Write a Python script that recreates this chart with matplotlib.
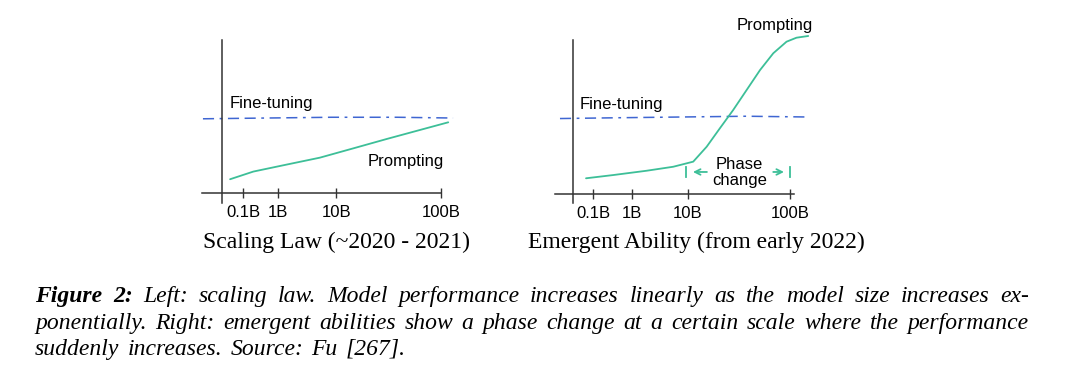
import matplotlib
matplotlib.use("Agg")
import matplotlib.pyplot as plt
import numpy as np

plt.rcParams['lines.scale_dashes'] = False

# model size ticks (sketch positions along the size axis, 100B = 1)
tick_labels = ['0.1B', '1B', '10B', '100B']
left_ticks = [0.096, 0.256, 0.521, 1.0]
right_ticks = [0.092, 0.272, 0.530, 1.0]

# left panel: scaling law
left_ft_x = [-0.087, 0.2, 0.5, 0.8, 1.055]
left_ft_y = [0.485, 0.49, 0.495, 0.495, 0.49]
left_pr_x = [0.037, 0.143, 0.286, 0.447, 0.600, 0.752, 0.904, 1.033]
left_pr_y = [0.090, 0.140, 0.183, 0.231, 0.292, 0.353, 0.412, 0.462]

# right panel: emergent ability
right_ft_x = [-0.06, 0.2, 0.5, 0.8, 1.083]
right_ft_y = [0.49, 0.495, 0.5, 0.505, 0.5]
right_pr_x = [0.060, 0.185, 0.339, 0.462, 0.554, 0.616, 0.677, 0.738, 0.800,
              0.862, 0.923, 0.984, 1.030, 1.084]
right_pr_y = [0.102, 0.123, 0.151, 0.177, 0.210, 0.307, 0.427, 0.545, 0.675,
              0.805, 0.914, 0.989, 1.015, 1.026]
phase_start, phase_end = 0.52, 1.0

caption_lines = [
    "Left: scaling law.  Model performance increases linearly as the model size increases ex-",
    "ponentially.  Right: emergent abilities show a phase change at a certain scale where the performance",
    "suddenly increases.  Source: Fu [267].",
]

W, H = 1080, 372
fig = plt.figure(figsize=(W / 100, H / 100), dpi=100)

green = '#3dbf98'
blue = '#3f66d2'
sans = 'Liberation Sans'
serif = 'Liberation Serif'


def make_axes(px_axis_x, px_axis_y, px_per_x, px_per_y, box):
    x0, y0, x1, y1 = box  # pixel box (left, top, right, bottom)
    ax = fig.add_axes([x0 / W, 1 - y1 / H, (x1 - x0) / W, (y1 - y0) / H])
    ax.set_xlim((x0 - px_axis_x) / px_per_x, (x1 - px_axis_x) / px_per_x)
    ax.set_ylim((px_axis_y - y1) / px_per_y, (px_axis_y - y0) / px_per_y)
    ax.patch.set_visible(False)
    for s in ['top', 'right']:
        ax.spines[s].set_visible(False)
    ax.spines['left'].set_position(('data', 0))
    ax.spines['bottom'].set_position(('data', 0))
    for s in ['left', 'bottom']:
        ax.spines[s].set_color('#333333')
        ax.spines[s].set_linewidth(1.1)
    ax.set_yticks([])
    ax.tick_params(axis='x', direction='inout', length=7, width=1.0,
                   color='#333333', pad=5, labelsize=12)
    return ax


def panel(ax, ticks, ft_x, ft_y, pr_x, pr_y, xb, yb):
    ax.spines['bottom'].set_bounds(*xb)
    ax.spines['left'].set_bounds(*yb)
    ax.set_xticks(ticks)
    ax.set_xticklabels(tick_labels, fontfamily=sans, fontsize=12)
    ax.plot(ft_x, ft_y, color=blue, lw=1.1, linestyle=(0, (8, 4, 2, 4, 8, 4)), clip_on=False)
    ax.plot(pr_x, pr_y, color=green, lw=1.3, clip_on=False,
            solid_capstyle='round', solid_joinstyle='round')


axL = make_axes(222, 193, 219, 153, (170, 10, 500, 262))
panel(axL, left_ticks, left_ft_x, left_ft_y, left_pr_x, left_pr_y, (-0.091, 1.0), (-0.065, 1.0))
axL.text(0.037, 0.588, 'Fine-tuning', fontfamily=sans, fontsize=12, va='center', ha='left')
axL.text(0.667, 0.203, 'Prompting', fontfamily=sans, fontsize=12, va='center', ha='left')
axL.text(0.523, -0.32, 'Scaling Law (~2020 - 2021)', fontfamily=serif, fontsize=17,
         va='center', ha='center')

axR = make_axes(573, 194, 217, 154, (500, 5, 900, 262))
panel(axR, right_ticks, right_ft_x, right_ft_y, right_pr_x, right_pr_y, (-0.083, 1.02), (-0.058, 1.0))
axR.text(0.032, 0.578, 'Fine-tuning', fontfamily=sans, fontsize=12, va='center', ha='left')
axR.text(0.756, 1.097, 'Prompting', fontfamily=sans, fontsize=12, va='center', ha='left')
axR.text(0.767, 0.14, 'Phase\nchange', fontfamily=sans, fontsize=12, va='center', ha='center',
         linespacing=1.1)
axR.text(0.567, -0.312, 'Emergent Ability (from early 2022)', fontfamily=serif, fontsize=17,
         va='center', ha='center')
# phase change markers
yb = 0.143
for xp in (phase_start, phase_end):
    axR.plot([xp, xp], [yb - 0.03, yb + 0.03], color=green, lw=1.3)
axR.annotate('', xy=(phase_start + 0.02, yb), xytext=(phase_start + 0.11, yb),
             arrowprops=dict(arrowstyle='->', color=green, lw=1.3))
axR.annotate('', xy=(phase_end - 0.015, yb), xytext=(phase_end - 0.09, yb),
             arrowprops=dict(arrowstyle='->', color=green, lw=1.3))

# caption, justified
renderer = fig.canvas.get_renderer()
cap_size = 17
left_px, right_px = 35, 1029
baselines = [302, 329, 355]


def width_of(s, **kw):
    t = fig.text(0, 0, s, fontsize=cap_size, fontfamily=serif, **kw)
    w = t.get_window_extent(renderer).width
    t.remove()
    return w


for i, line in enumerate(caption_lines):
    words = [(w, dict(style='italic')) for w in line.split()]
    if i == 0:
        words = [('Figure', dict(style='italic', weight='bold')),
                 ('2:', dict(style='italic', weight='bold'))] + words
    widths = [width_of(w, **kw) for w, kw in words]
    space = width_of('a b', style='italic') - width_of('ab', style='italic')
    if i < len(caption_lines) - 1:
        gap = (right_px - left_px - sum(widths)) / (len(words) - 1)
    else:
        gap = space * 1.4
    x = left_px
    for (w, kw), wd in zip(words, widths):
        fig.text(x / W, 1 - baselines[i] / H, w, fontsize=cap_size, fontfamily=serif,
                 va='baseline', ha='left', **kw)
        x += wd + gap

fig.savefig('out.png', dpi=100)
